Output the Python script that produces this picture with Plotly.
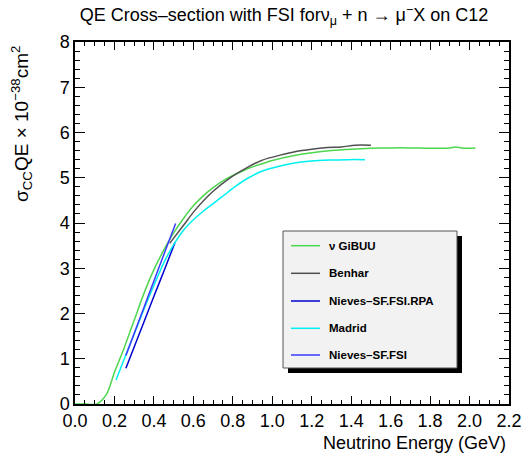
import plotly.graph_objects as go

# QE cross-section curves (E in GeV, sigma in 1e-38 cm^2)
gibuu_e = [0.00, 0.05, 0.11, 0.16, 0.20, 0.25, 0.30, 0.35, 0.40, 0.45, 0.50, 0.55,
           0.60, 0.65, 0.70, 0.75, 0.80, 0.85, 0.90, 0.95, 1.00, 1.10, 1.20, 1.30,
           1.40, 1.50, 1.60, 1.70, 1.80, 1.90, 1.93, 1.96, 2.00, 2.03]
gibuu_s = [0.00, 0.00, 0.00, 0.22, 0.70, 1.25, 1.85, 2.45, 2.97, 3.40, 3.78, 4.10,
           4.38, 4.60, 4.78, 4.93, 5.05, 5.15, 5.24, 5.31, 5.38, 5.48, 5.55, 5.60,
           5.63, 5.65, 5.66, 5.66, 5.65, 5.66, 5.68, 5.66, 5.65, 5.66]

benhar_e = [0.48, 0.55, 0.61, 0.70, 0.79, 0.87, 0.95, 1.04, 1.12, 1.20, 1.28, 1.35, 1.42, 1.50]
benhar_s = [3.55, 3.95, 4.29, 4.70, 5.01, 5.22, 5.39, 5.50, 5.58, 5.63, 5.67, 5.68, 5.72, 5.72]

rpa_e = [0.258, 0.30, 0.35, 0.40, 0.45, 0.507]
rpa_s = [0.79, 1.26, 1.82, 2.38, 2.93, 3.57]

madrid_e = [0.208, 0.25, 0.30, 0.35, 0.40, 0.45, 0.50, 0.55, 0.60, 0.65, 0.71,
            0.76, 0.81, 0.88, 0.95, 1.04, 1.12, 1.20, 1.29, 1.38, 1.47]
madrid_s = [0.53, 1.00, 1.55, 2.10, 2.62, 3.12, 3.52, 3.84, 4.07, 4.26, 4.46,
            4.63, 4.80, 5.00, 5.15, 5.26, 5.33, 5.37, 5.39, 5.40, 5.40]

sffsi_e = [0.258, 0.30, 0.35, 0.40, 0.45, 0.51]
sffsi_s = [1.07, 1.56, 2.14, 2.72, 3.30, 3.99]

series_names = ["\u03bd GiBUU", "Benhar", "Nieves\u2013SF.FSI.RPA", "Madrid", "Nieves\u2013SF.FSI"]
series_colors = ["#4fd64f", "#505050", "#0000d0", "#00f0f0", "#3a3aff"]
series_data = [(gibuu_e, gibuu_s), (benhar_e, benhar_s), (rpa_e, rpa_s),
               (madrid_e, madrid_s), (sffsi_e, sffsi_s)]

FONT = "Liberation Sans, Arial, Helvetica, sans-serif"

fig = go.Figure()
for name, color, (e, s) in zip(series_names, series_colors, series_data):
    fig.add_trace(go.Scatter(x=e, y=s, mode="lines", name=name,
                             line=dict(color=color, width=1.5, shape="spline", smoothing=0.8),
                             showlegend=False))

W, H = 529, 456
L, R, T, B = 75, 20, 42, 52
pw, ph = W - L - R, H - T - B


def px(xp):
    return (xp - L) / pw


def py(yp):
    return (H - B - yp) / ph


shapes = []
annotations = []

# legend box with drop shadow
bx0, by0, bx1, by1 = 283, 231, 457, 368
shapes.append(dict(type="rect", xref="paper", yref="paper",
                   x0=px(bx0 + 5), x1=px(bx1 + 5), y0=py(by1 + 5), y1=py(by0 + 5),
                   fillcolor="black", line=dict(width=0), layer="above"))
shapes.append(dict(type="rect", xref="paper", yref="paper",
                   x0=px(bx0), x1=px(bx1), y0=py(by1), y1=py(by0),
                   fillcolor="#f2f2f2", line=dict(color="#555555", width=1), layer="above"))
entry_y = [245.7, 273.3, 301.0, 328.3, 355.0]
for name, color, yy in zip(series_names, series_colors, entry_y):
    shapes.append(dict(type="line", xref="paper", yref="paper",
                       x0=px(291), x1=px(320), y0=py(yy), y1=py(yy),
                       line=dict(color=color, width=1.5), layer="above"))
    annotations.append(dict(xref="paper", yref="paper", x=px(327), y=py(yy),
                            xanchor="left", yanchor="middle", showarrow=False,
                            text="<b>" + name + "</b>",
                            font=dict(family=FONT, size=11.5, color="black")))

# axis titles
annotations.append(dict(xref="paper", yref="paper", x=px(508), y=py(443),
                        xanchor="right", yanchor="middle", showarrow=False,
                        text="Neutrino Energy (GeV)",
                        font=dict(family=FONT, size=18, color="black")))
annotations.append(dict(xref="paper", yref="paper", x=px(22), y=py(124),
                        xanchor="center", yanchor="middle", showarrow=False, textangle=-90,
                        text="\u03c3<sub>CC</sub>QE \u00d7 10<sup>\u221238</sup>cm<sup>2</sup>",
                        font=dict(family=FONT, size=19, color="black")))

fig.update_layout(
    width=W, height=H,
    margin=dict(l=L, r=R, t=T, b=B, autoexpand=False),
    paper_bgcolor="white", plot_bgcolor="white",
    font=dict(family=FONT, color="black"),
    title=dict(text="QE Cross\u2013section with FSI for\u03bd<sub>\u03bc</sub> + n \u2192 \u03bc<sup>\u2212</sup>X on C12",
               x=284 / W, xanchor="center", y=1 - 15 / H, yanchor="middle",
               font=dict(family=FONT, size=18, color="black")),
    shapes=shapes, annotations=annotations,
    xaxis=dict(range=[0, 2.2], dtick=0.2, tick0=0, tickformat=".1f",
               ticks="inside", ticklen=8, tickwidth=1, tickcolor="black",
               minor=dict(dtick=0.05, ticklen=4, tickwidth=1, tickcolor="black", ticks="inside"),
               showline=True, linecolor="black", linewidth=1.5, mirror="allticks",
               showgrid=False, zeroline=False,
               tickfont=dict(family=FONT, size=18, color="black")),
    yaxis=dict(range=[0, 8], dtick=1, tick0=0,
               ticks="inside", ticklen=10, tickwidth=1, tickcolor="black",
               minor=dict(dtick=0.2, ticklen=5, tickwidth=1, tickcolor="black", ticks="inside"),
               showline=True, linecolor="black", linewidth=1.5, mirror="allticks",
               showgrid=False, zeroline=False,
               tickfont=dict(family=FONT, size=18, color="black")),
)

fig.write_html("out.html")
